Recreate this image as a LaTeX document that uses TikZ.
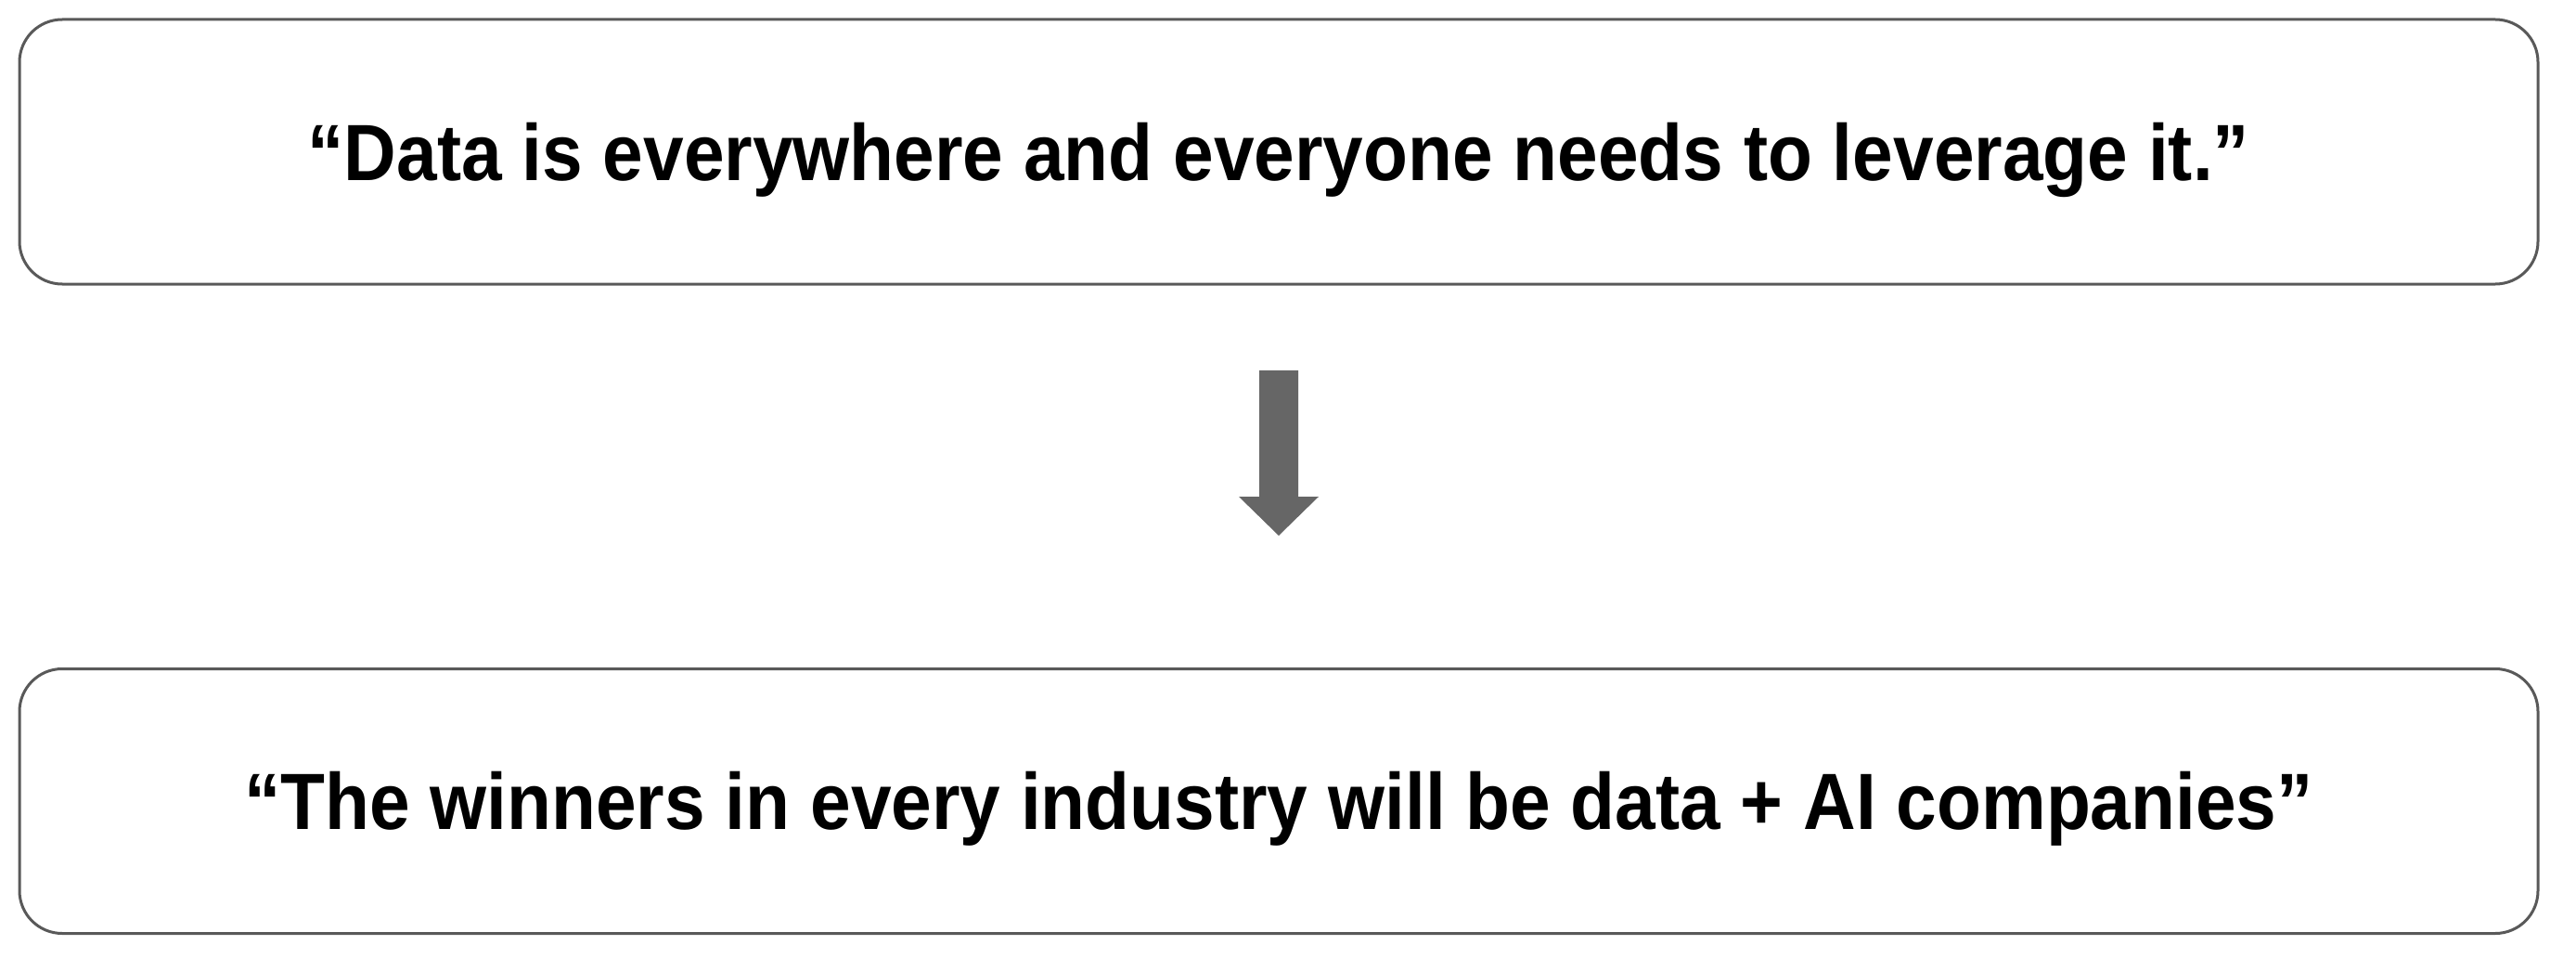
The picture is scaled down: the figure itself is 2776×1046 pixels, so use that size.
\documentclass[tikz,border=0pt]{standalone}
\usepackage{fontspec}
\setmainfont{Liberation Sans}[FakeStretch=0.912]
\definecolor{boxline}{HTML}{595959}
\definecolor{arrowgray}{HTML}{666666}
\begin{document}
\begin{tikzpicture}[x=1pt,y=-1pt,
  quotebox/.style={draw=boxline, line width=3pt, rounded corners=46pt,
    minimum width=2714pt, minimum height=285pt, inner sep=0pt},
  quotetext/.style={anchor=base, inner sep=0pt, font=\fontsize{86}{100}\selectfont\bfseries},
  blockarrow/.style={fill=arrowgray, draw=none}]
\useasboundingbox (0,0) rectangle (2776,1046);
\node[quotebox] (top) at (1378,163.5) {};
\node[quotebox] (bot) at (1378,863) {};
\node[quotetext] (toptext) at (1378,194) {“Data is everywhere and everyone needs to leverage it.”};
\node[quotetext] (bottext) at (1378,893.5) {“The winners in every industry will be data + AI companies”};
\coordinate (as) at (1378,399);
\coordinate (ae) at (1378,577);
\fill[blockarrow] ([xshift=-21pt]as) -- ([xshift=21pt]as) -- (1399,535) -- (1421,535)
  -- (ae) -- (1335,535) -- (1357,535) -- cycle;
\end{tikzpicture}
\end{document}
